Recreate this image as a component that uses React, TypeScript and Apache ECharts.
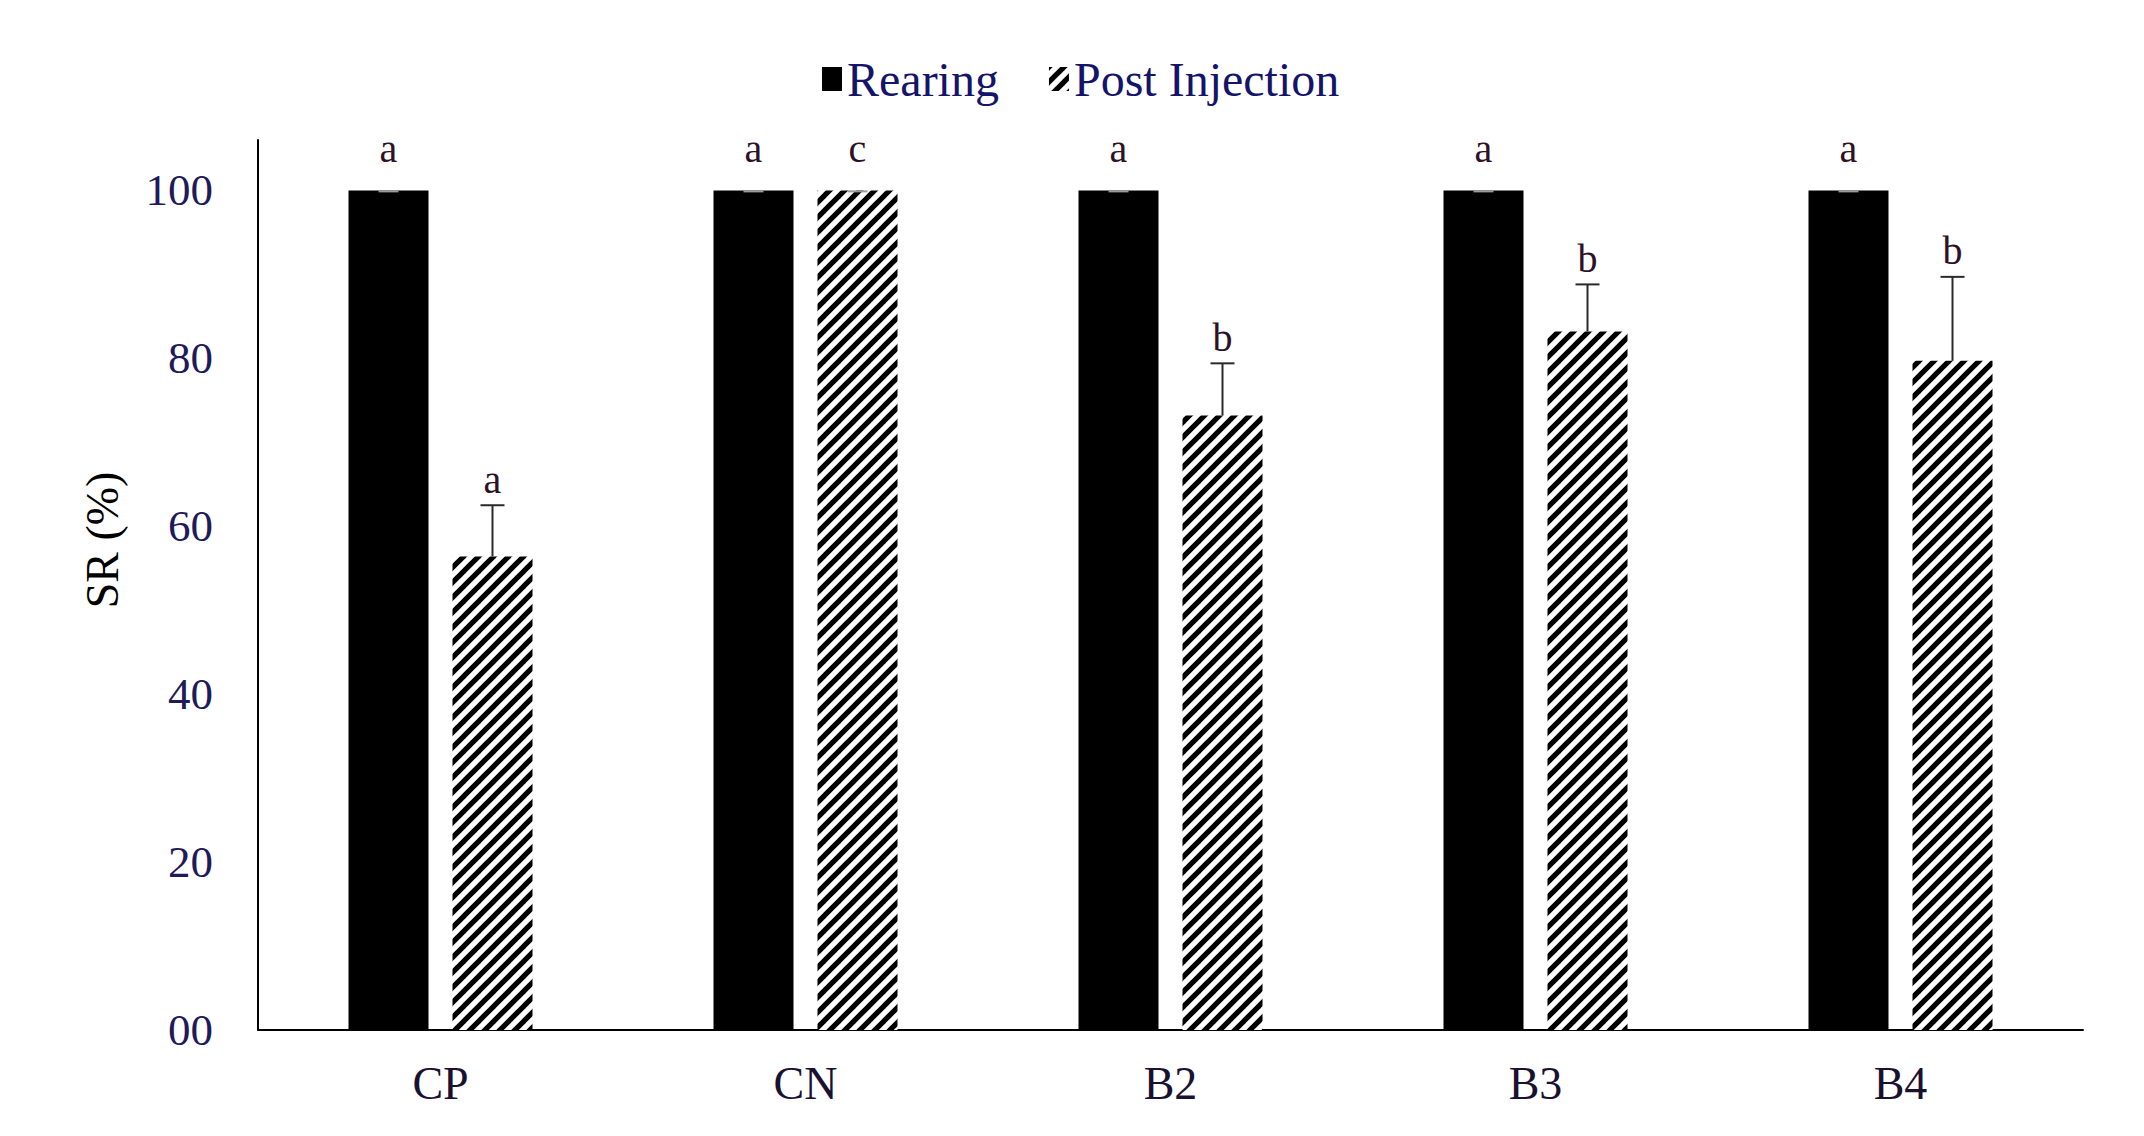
import React, { useEffect, useRef } from "react";
import * as echarts from "echarts";

const categories = ["CP", "CN", "B2", "B3", "B4"];
const rearing = [100, 100, 100, 100, 100];
const rearingErr = [0, 0, 0, 0, 0];
const postInjection = [56.4, 100, 73.2, 83.2, 79.7];
const postErr = [6.1, 0, 6.2, 5.6, 10.0];
const rearingLetters = ["a", "a", "a", "a", "a"];
const postLetters = ["a", "c", "b", "b", "b"];
const seriesNames = ["Rearing", "Post Injection"];

const SERIF = "'Liberation Serif', 'DejaVu Serif', serif";

function makeHatch(): HTMLCanvasElement {
  const s = 15;
  const c = document.createElement("canvas");
  c.width = s;
  c.height = s;
  const ctx = c.getContext("2d")!;
  ctx.fillStyle = "#ffffff";
  ctx.fillRect(0, 0, s, s);
  ctx.strokeStyle = "#000000";
  ctx.lineWidth = 5.2;
  for (let k = -1; k <= 1; k++) {
    ctx.beginPath();
    ctx.moveTo(k * s - 2, s + 2);
    ctx.lineTo(k * s + s + 2, -2);
    ctx.stroke();
  }
  return c;
}

export default function App() {
  const ref = useRef<HTMLDivElement>(null);

  useEffect(() => {
    if (!ref.current) return;
    const chart = echarts.init(ref.current, null, { renderer: "svg" });
    const hatch = { image: makeHatch(), repeat: "repeat" } as any;
    const barW = 80;
    const gap = 24;
    const off = (barW + gap) / 2;

    const errSeries = (
      vals: number[],
      errs: number[],
      letters: string[],
      sign: number,
      capColor: string
    ) => ({
      type: "custom",
      z: 10,
      silent: true,
      encode: { x: 0, y: 1 },
      data: vals.map((v, i) => [i, v, errs[i]]),
      renderItem: (params: any, api: any) => {
        const i = params.dataIndex;
        const cat = api.value(0);
        const v = api.value(1);
        const e = api.value(2);
        const base = api.coord([cat, v]);
        const top = api.coord([cat, v + e]);
        const x = base[0] + sign * off;
        const children: any[] = [];
        if (e > 0) {
          children.push({
            type: "line",
            shape: { x1: x, y1: base[1], x2: x, y2: top[1] },
            style: { stroke: "#2a2a2a", lineWidth: 2 },
          });
          children.push({
            type: "line",
            shape: { x1: x - 12, y1: top[1], x2: x + 12, y2: top[1] },
            style: { stroke: "#2a2a2a", lineWidth: 2 },
          });
        } else {
          children.push({
            type: "line",
            shape: { x1: x - 10, y1: top[1] + 1, x2: x + 10, y2: top[1] + 1 },
            style: { stroke: capColor, lineWidth: 2 },
          });
        }
        children.push({
          type: "text",
          style: {
            x: x,
            y: top[1] - (e > 0 ? 26 : 42),
            text: letters[i],
            fill: "#2e1028",
            font: `40px ${SERIF}`,
            align: "center",
            verticalAlign: "middle",
          },
        });
        return { type: "group", children };
      },
    });

    chart.setOption({
      animation: false,
      backgroundColor: "#ffffff",
      legend: {
        data: [
          { name: seriesNames[0], icon: "rect" },
          { name: seriesNames[1], icon: "rect" },
        ],
        left: 817,
        top: 50,
        itemWidth: 20,
        itemHeight: 24,
        itemGap: 50,
        textStyle: { fontFamily: SERIF, fontSize: 48, color: "#14146a", padding: [0, 0, 0, 0] },
      },
      grid: { left: 258, right: 61, top: 140, bottom: 106 },
      xAxis: {
        type: "category",
        data: categories,
        axisLine: { lineStyle: { color: "#000", width: 2 } },
        axisTick: { show: false },
        axisLabel: { fontFamily: SERIF, fontSize: 46, color: "#1a1030", margin: 30 },
      },
      yAxis: {
        type: "value",
        min: 0,
        max: 106,
        interval: 20,
        axisLine: { show: true, lineStyle: { color: "#000", width: 2 } },
        axisTick: { show: false },
        splitLine: { show: false },
        axisLabel: {
          fontFamily: SERIF,
          fontSize: 45,
          color: "#1f1a5a",
          margin: 45,
          showMaxLabel: false,
          formatter: (v: number) => (v === 0 ? "00" : String(v)),
        },
      },
      graphic: [
        {
          type: "text",
          x: 102,
          y: 540,
          rotation: Math.PI / 2,
          style: {
            text: "SR (%)",
            font: `46px ${SERIF}`,
            fill: "#000",
            align: "center",
            verticalAlign: "middle",
          },
        },
      ],
      series: [
        {
          name: seriesNames[0],
          type: "bar",
          data: rearing,
          barWidth: barW,
          barGap: "30%",
          itemStyle: { color: "#000000" },
        },
        {
          name: seriesNames[1],
          type: "bar",
          data: postInjection,
          barWidth: barW,
          barGap: "30%",
          itemStyle: { color: hatch },
        },
        errSeries(rearing, rearingErr, rearingLetters, -1, "#9a9a9a"),
        errSeries(postInjection, postErr, postLetters, 1, "#9a9a9a"),
      ],
    });
    return () => chart.dispose();
  }, []);

  return (
    <div
      ref={ref}
      style={{ position: "fixed", left: 0, top: 0, width: 2144, height: 1136, background: "#fff" }}
    />
  );
}
